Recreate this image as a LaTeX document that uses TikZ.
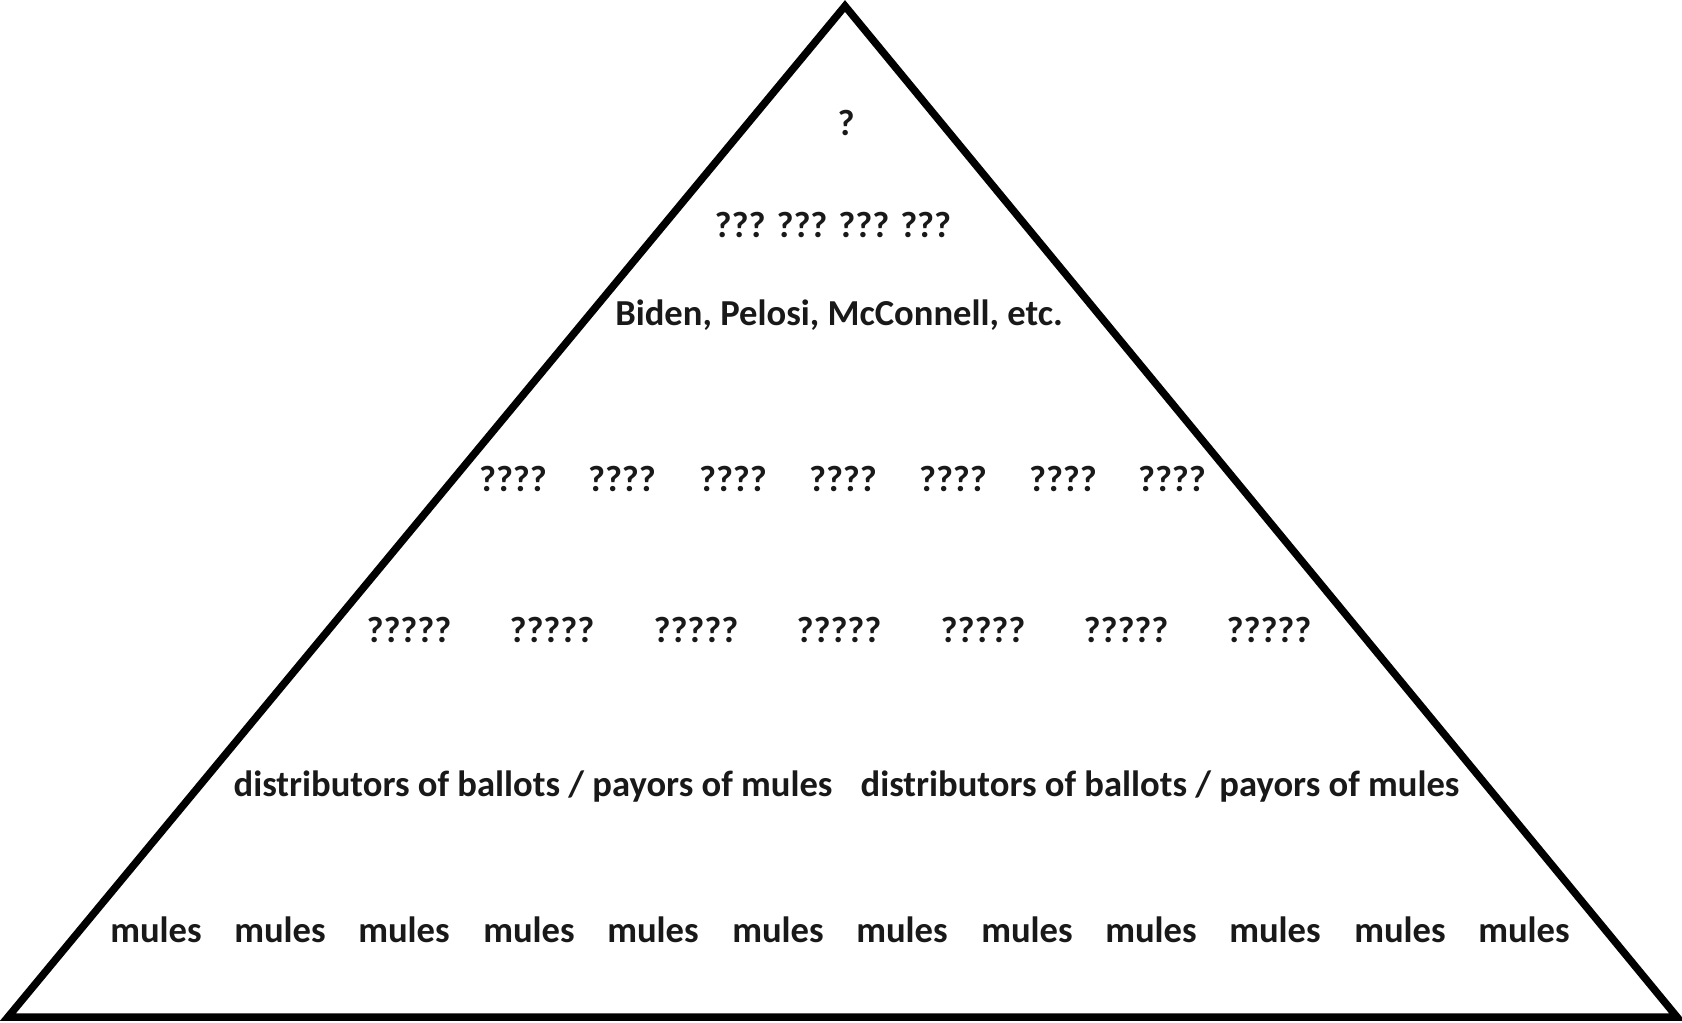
\documentclass[tikz,border=0pt]{standalone}
\usepackage{fontspec}
\setmainfont{Carlito}
\begin{document}
\begin{tikzpicture}[x=1pt,y=-1pt,
  lbl/.style={inner sep=0pt, font=\fontsize{36.6}{44}\selectfont\bfseries, text=black!90}]
\useasboundingbox (0,0) rectangle (1682,1023);
\fill[white] (0,0) rectangle (1682,1023);
\draw[line width=7.5pt, line join=miter] (845,6) -- (1677,1017) -- (8,1017) -- cycle;
\node[lbl] (top) at (846,123) {?};
\node[lbl] (r2) at (833,225) {??? ??? ??? ???};
\node[lbl] (r3) at (839,315) {Biden, Pelosi, McConnell, etc.};
\foreach \x [count=\i] in {513,622,733,843,953,1063,1172}
  \node[lbl] (q4-\i) at (\x,479) {????};
\foreach \x [count=\i] in {409,552,696,839,983,1126,1269}
  \node[lbl] (q5-\i) at (\x,630) {?????};
\node[lbl] (d1) at (533,787) {distributors of ballots / payors of mules};
\node[lbl] (d2) at (1160,787) {distributors of ballots / payors of mules};
\foreach \x [count=\i] in {156,280,404,529,653,778,902,1027,1151,1275,1400,1524}
  \node[lbl] (m-\i) at (\x,930) {mules};
\end{tikzpicture}
\end{document}
